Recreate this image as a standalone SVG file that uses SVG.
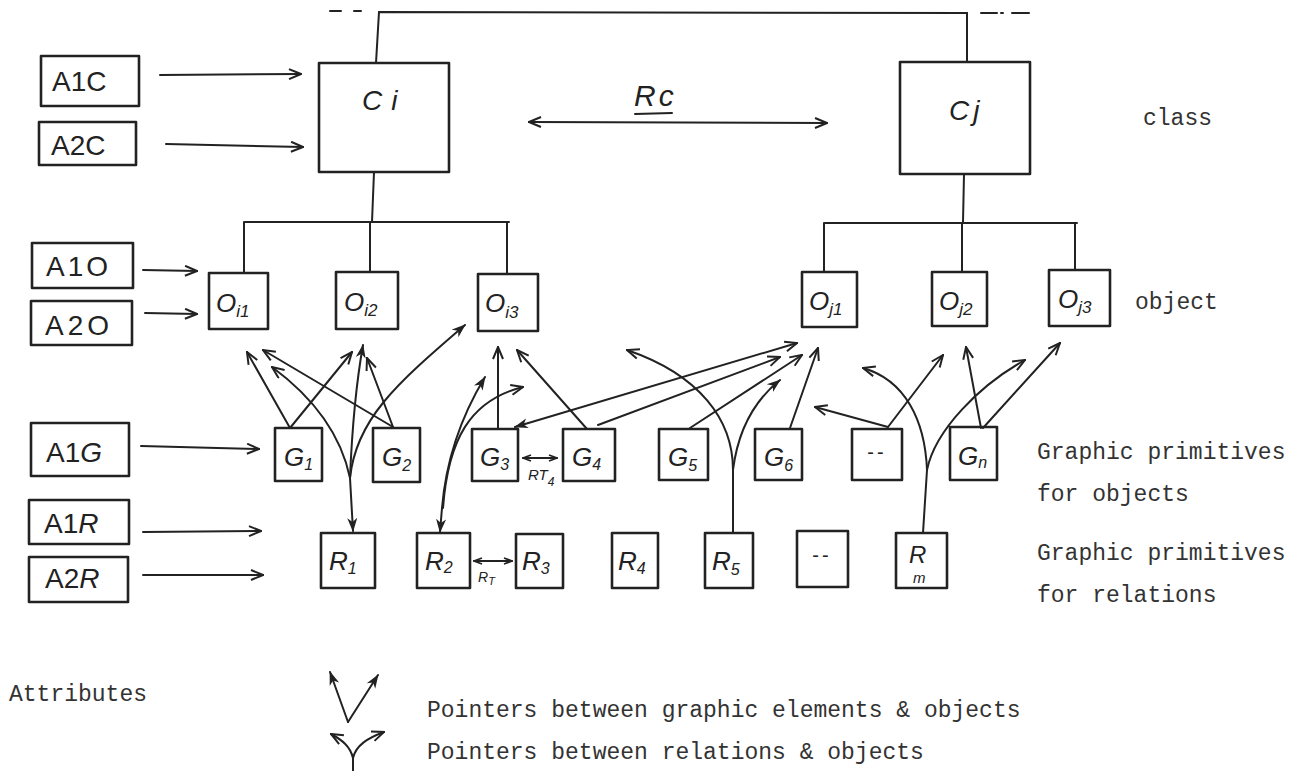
<svg xmlns="http://www.w3.org/2000/svg" width="1303" height="771" viewBox="0 0 1303 771">
  <style>
    .box { fill: none; stroke: #222; stroke-width: 2.6; stroke-linejoin: round; }
    .ln { fill: none; stroke: #222; stroke-width: 2; stroke-linecap: round; }
    .hw { font-family: "Liberation Sans", "DejaVu Sans", sans-serif; fill: #222; }
    .it { font-style: italic; }
    .tw { font-family: "Liberation Mono", "DejaVu Sans Mono", monospace; font-size: 23px; fill: #333; }
  </style>
  <defs>
    <marker id="oa" viewBox="0 0 14 12" refX="13" refY="6" markerWidth="14" markerHeight="12" markerUnits="userSpaceOnUse" orient="auto-start-reverse">
      <path d="M1,1 L13,6 L1,11" fill="none" stroke="#222" stroke-width="2"/>
    </marker>
    <marker id="fa" viewBox="0 0 14 12" refX="13" refY="6" markerWidth="14" markerHeight="12" markerUnits="userSpaceOnUse" orient="auto-start-reverse">
      <path d="M0,1 L14,6 L0,11 L4,6 z" fill="#222"/>
    </marker>
    <marker id="sa" viewBox="0 0 10 8" refX="9" refY="4" markerWidth="10" markerHeight="8" markerUnits="userSpaceOnUse" orient="auto-start-reverse">
      <path d="M1,1 L9,4 L1,7" fill="none" stroke="#222" stroke-width="1.8"/>
    </marker>
  </defs>
  <rect width="1303" height="771" fill="#fff"/>

  <!-- class hierarchy trunk -->
  <g id="hierarchy" class="ln">
    <path d="M330,11 L341,11 M354,11 L361,11"/>
    <path d="M376,63 L379,12 L967,13 L967,62"/>
    <path d="M981,13 L997,13 M1001,13 L1003,13 M1012,13 L1029,13"/>
    <path d="M374,172 L372,222 M245,222 L509,222 M244,222 L244,273 M370,222 L370,272 M507,222 L507,274"/>
    <path d="M964,174 L963,222 M825,223 L1077,223 M824,223 L824,272 M962,223 L962,272 M1075,223 L1075,270"/>
  </g>

  <!-- attribute boxes -->
  <g id="A1C"><rect class="box" x="41" y="56" width="98" height="50"/><text class="hw" x="52" y="91" font-size="28">A1C</text></g>
  <g id="A2C"><rect class="box" x="39" y="122" width="97" height="43"/><text class="hw" x="51" y="155" font-size="28">A2C</text></g>
  <g id="A1O"><rect class="box" x="32" y="243" width="101" height="45"/><text class="hw" x="46" y="276" font-size="28" letter-spacing="3">A1O</text></g>
  <g id="A2O"><rect class="box" x="31" y="301" width="101" height="44"/><text class="hw" x="45" y="335" font-size="28" letter-spacing="4">A2O</text></g>
  <g id="A1G"><rect class="box" x="31" y="423" width="98" height="53"/><text class="hw" x="46" y="462" font-size="28">A1<tspan class="it">G</tspan></text></g>
  <g id="A1R"><rect class="box" x="29" y="500" width="100" height="44"/><text class="hw" x="44" y="533" font-size="28">A1<tspan class="it">R</tspan></text></g>
  <g id="A2R"><rect class="box" x="29" y="557" width="99" height="45"/><text class="hw" x="45" y="588" font-size="28">A2<tspan class="it">R</tspan></text></g>

  <!-- classes -->
  <g id="Ci"><rect class="box" x="319" y="63" width="130" height="109"/><text class="hw it" x="362" y="110" font-size="28" letter-spacing="9">Ci</text></g>
  <g id="Cj"><rect class="box" x="900" y="62" width="130" height="112"/><text class="hw it" x="949" y="120" font-size="28" letter-spacing="4">Cj</text></g>
  <g id="Rc-label"><text class="hw it" x="634" y="106" font-size="30" letter-spacing="3">Rc</text><path class="ln" d="M635,114 L672,113"/></g>

  <!-- objects -->
  <g id="Oi1"><rect class="box" x="209" y="273" width="59" height="56"/><text class="hw it" x="216" y="312" font-size="26">O<tspan font-size="17" dy="5">i1</tspan></text></g>
  <g id="Oi2"><rect class="box" x="336" y="272" width="62" height="57"/><text class="hw it" x="344" y="311" font-size="26">O<tspan font-size="17" dy="5">i2</tspan></text></g>
  <g id="Oi3"><rect class="box" x="478" y="274" width="60" height="57"/><text class="hw it" x="485" y="312" font-size="26">O<tspan font-size="17" dy="6">i3</tspan></text></g>
  <g id="Oj1"><rect class="box" x="802" y="272" width="55" height="55"/><text class="hw it" x="809" y="310" font-size="26">O<tspan font-size="17" dy="5">j1</tspan></text></g>
  <g id="Oj2"><rect class="box" x="932" y="272" width="55" height="54"/><text class="hw it" x="939" y="310" font-size="26">O<tspan font-size="17" dy="5">j2</tspan></text></g>
  <g id="Oj3"><rect class="box" x="1049" y="270" width="61" height="56"/><text class="hw it" x="1058" y="308" font-size="26">O<tspan font-size="17" dy="5">j3</tspan></text></g>

  <!-- graphic primitives for objects -->
  <g id="G1"><rect class="box" x="275" y="428" width="47" height="53"/><text class="hw it" x="284" y="466" font-size="26">G<tspan font-size="16" dy="4">1</tspan></text></g>
  <g id="G2"><rect class="box" x="373" y="428" width="47" height="54"/><text class="hw it" x="382" y="466" font-size="26">G<tspan font-size="16" dy="5">2</tspan></text></g>
  <g id="G3"><rect class="box" x="472" y="429" width="46" height="52"/><text class="hw it" x="480" y="466" font-size="26">G<tspan font-size="16" dy="4">3</tspan></text></g>
  <g id="G4"><rect class="box" x="563" y="429" width="52" height="52"/><text class="hw it" x="572" y="466" font-size="26">G<tspan font-size="16" dy="4">4</tspan></text></g>
  <g id="G5"><rect class="box" x="659" y="429" width="49" height="51"/><text class="hw it" x="668" y="466" font-size="26">G<tspan font-size="16" dy="5">5</tspan></text></g>
  <g id="G6"><rect class="box" x="755" y="429" width="47" height="51"/><text class="hw it" x="764" y="466" font-size="26">G<tspan font-size="16" dy="5">6</tspan></text></g>
  <g id="G-more"><rect class="box" x="852" y="429" width="50" height="51"/><text class="hw" x="877" y="459" font-size="20" text-anchor="middle" letter-spacing="3">--</text></g>
  <g id="Gn"><rect class="box" x="950" y="427" width="47" height="53"/><text class="hw it" x="958" y="465" font-size="26">G<tspan font-size="16" dy="3">n</tspan></text></g>

  <!-- graphic primitives for relations -->
  <g id="R1"><rect class="box" x="321" y="533" width="54" height="55"/><text class="hw it" x="329" y="570" font-size="26">R<tspan font-size="16" dy="4">1</tspan></text></g>
  <g id="R2"><rect class="box" x="417" y="533" width="53" height="55"/><text class="hw it" x="425" y="570" font-size="26">R<tspan font-size="16" dy="3">2</tspan></text></g>
  <g id="R3"><rect class="box" x="516" y="534" width="47" height="54"/><text class="hw it" x="522" y="570" font-size="26">R<tspan font-size="16" dy="4">3</tspan></text></g>
  <g id="R4"><rect class="box" x="612" y="533" width="46" height="55"/><text class="hw it" x="618" y="570" font-size="26">R<tspan font-size="16" dy="4">4</tspan></text></g>
  <g id="R5"><rect class="box" x="705" y="533" width="48" height="55"/><text class="hw it" x="712" y="570" font-size="26">R<tspan font-size="16" dy="5">5</tspan></text></g>
  <g id="R-more"><rect class="box" x="797" y="531" width="51" height="56"/><text class="hw" x="822" y="562" font-size="20" text-anchor="middle" letter-spacing="3">--</text></g>
  <g id="Rm"><rect class="box" x="896" y="533" width="51" height="55"/><text class="hw it" x="909" y="563" font-size="24">R</text><text class="hw it" x="913" y="583" font-size="15">m</text></g>

  <!-- relation labels between primitives -->
  <g id="RT4-label"><text class="hw it" x="528" y="480" font-size="15">RT<tspan font-size="12" dy="6">4</tspan></text></g>
  <g id="RT-label"><text class="hw it" x="478" y="582" font-size="14">R<tspan font-size="11" dy="3">T</tspan></text></g>

  <!-- side captions -->
  <g id="captions">
    <text class="tw" x="1143" y="125">class</text>
    <text class="tw" x="1135" y="309">object</text>
    <text class="tw" x="1037" y="459">Graphic primitives</text>
    <text class="tw" x="1037" y="501">for objects</text>
    <text class="tw" x="1037" y="560">Graphic primitives</text>
    <text class="tw" x="1037" y="602">for relations</text>
    <text class="tw" x="9" y="701">Attributes</text>
    <text class="tw" x="427" y="717">Pointers between graphic elements &amp; objects</text>
    <text class="tw" x="427" y="759">Pointers between relations &amp; objects</text>
  </g>

  <!-- connectors -->
  <g id="connectors" class="ln">
    <!-- attributes to their level -->
    <path d="M160,75 L301,74" marker-end="url(#oa)"/>
    <path d="M166,144 L303,147" marker-end="url(#oa)"/>
    <path d="M143,270 L197,271" marker-end="url(#oa)"/>
    <path d="M145,313 L197,314" marker-end="url(#oa)"/>
    <path d="M141,446 L259,449" marker-end="url(#oa)"/>
    <path d="M143,532 L261,531" marker-end="url(#oa)"/>
    <path d="M143,575 L263,575" marker-end="url(#oa)"/>

    <!-- relation between classes -->
    <path d="M529,122 L827,123" marker-start="url(#oa)" marker-end="url(#oa)"/>

    <!-- graphic primitives to objects -->
    <path d="M290,428 L247,352" marker-end="url(#oa)"/>
    <path d="M290,428 L352,352" marker-end="url(#oa)"/>
    <path d="M393,427 L263,350" marker-end="url(#oa)"/>
    <path d="M393,427 L367,358" marker-end="url(#oa)"/>
    <path d="M498,428 L498,347" marker-end="url(#oa)"/>
    <path d="M587,429 L517,350" marker-end="url(#oa)"/>
    <path d="M515,427 L797,343" marker-start="url(#fa)" marker-end="url(#oa)"/>
    <path d="M598,425 L780,357" marker-end="url(#oa)"/>
    <path d="M690,428 L802,355" marker-end="url(#oa)"/>
    <path d="M790,428 L818,348" marker-end="url(#oa)"/>
    <path d="M888,427 L815,407" marker-end="url(#oa)"/>
    <path d="M888,427 L943,355" marker-end="url(#oa)"/>
    <path d="M981,428 L966,347" marker-end="url(#oa)"/>
    <path d="M983,428 L1060,343" marker-end="url(#oa)"/>

    <!-- R1 pointers -->
    <path d="M350,478 L353,531" marker-end="url(#fa)"/>
    <path d="M350,478 C340,430 310,395 272,367" marker-end="url(#oa)"/>
    <path d="M350,478 C352,430 355,390 363,345" marker-end="url(#fa)"/>
    <path d="M350,478 C356,420 395,385 465,325" marker-end="url(#fa)"/>

    <!-- R2 pointers -->
    <path d="M442,508 L440,532" marker-end="url(#fa)"/>
    <path d="M442,508 C446,460 462,415 485,377" marker-end="url(#fa)"/>
    <path d="M443,508 C448,440 470,400 523,387" marker-end="url(#oa)"/>

    <!-- R5 pointers -->
    <path d="M733,533 L733,470"/>
    <path d="M733,470 C733,420 700,375 627,350" marker-end="url(#oa)"/>
    <path d="M733,470 C738,430 755,400 780,380" marker-end="url(#fa)"/>

    <!-- Rm pointers -->
    <path d="M923,533 L927,470"/>
    <path d="M927,470 C925,420 905,380 863,368" marker-end="url(#oa)"/>
    <path d="M927,470 C935,430 980,385 1025,360" marker-end="url(#oa)"/>

    <!-- relations between primitives -->
    <path d="M523,458 L557,458" marker-start="url(#sa)" marker-end="url(#sa)"/>
    <path d="M474,561 L512,561" marker-start="url(#sa)" marker-end="url(#sa)"/>

    <!-- key symbols -->
    <path d="M348,722 L330,672" marker-end="url(#fa)"/>
    <path d="M348,722 L378,675" marker-end="url(#fa)"/>
    <path d="M353,771 L353,758"/>
    <path d="M353,758 C350,746 342,740 331,734" marker-end="url(#oa)"/>
    <path d="M353,758 C356,745 368,738 384,732" marker-end="url(#oa)"/>
  </g>
</svg>
